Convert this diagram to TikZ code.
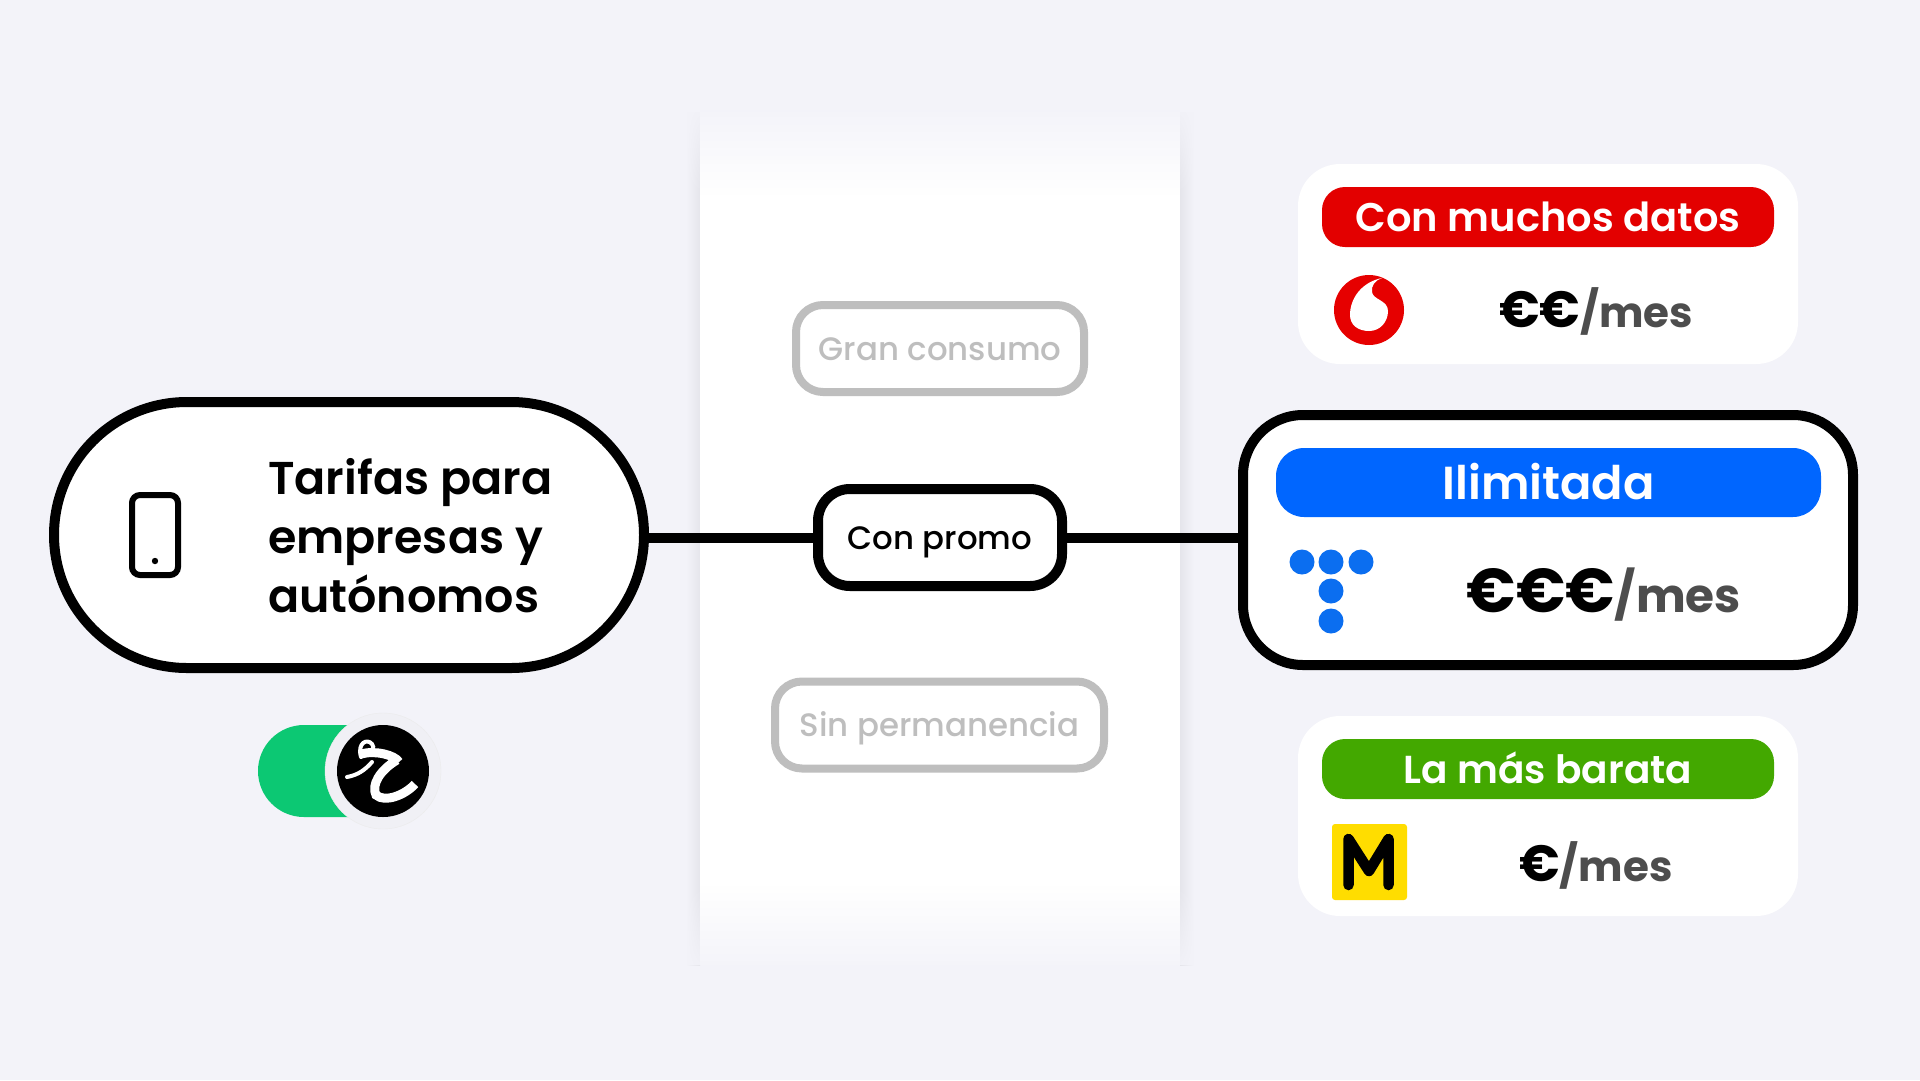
\documentclass[tikz,border=0pt]{standalone}
\usepackage{fontspec}
\setmainfont{Poppins}
\newfontfamily\medfont{Poppins Medium}
\newfontfamily\semifont{Poppins SemiBold}
\newfontfamily\heavyfont{Poppins Black}
\usetikzlibrary{fadings}
\definecolor{pagebg}{HTML}{F3F3F9}
\definecolor{sideshade}{HTML}{E5E5EB}
\definecolor{mutedgray}{HTML}{BEBEBE}
\definecolor{pricegray}{HTML}{4D4D4D}
\definecolor{switchgreen}{HTML}{0CC873}
\definecolor{knobgray}{HTML}{F0F0F5}
\definecolor{vodared}{HTML}{E60000}
\definecolor{tagred}{HTML}{E30000}
\definecolor{tagblue}{HTML}{0066FF}
\definecolor{taggreen}{HTML}{43A800}
\definecolor{dotblue}{HTML}{0B6EF0}
\definecolor{signyellow}{HTML}{FFDD00}
\tikzfading[name=fadedown, top color=transparent!12, bottom color=transparent!100]
\tikzfading[name=fadeup, bottom color=transparent!12, top color=transparent!100]
\newcommand{\eurosat}[2]{{\heavyfont\fontsize{#1}{#1}\selectfont\textcolor{black}{#2}}}
\tikzset{
  linkline/.style={line width=10pt},
  optionbox/.style={draw=mutedgray, line width=8pt, fill=white, text=mutedgray, rounded corners=27pt,
    inner sep=0pt, minimum height=87pt, text height=23pt, text depth=0pt, font=\medfont\fontsize{32.4}{38}\selectfont},
  activebox/.style={optionbox, draw=black, line width=10pt, text=black, rounded corners=32pt},
  planlabel/.style={fill=white, rounded corners=42pt, inner sep=0pt, minimum width=500pt, minimum height=200pt},
  tagbar/.style={rounded corners=23pt, inner sep=0pt, minimum width=452pt, minimum height=60pt, text=white,
    text height=28pt, text depth=0pt, font=\semifont\fontsize{40}{46}\selectfont},
  pricetag/.style={anchor=base, inner sep=0pt, text=pricegray},
  knobstroke/.style={draw=white, line cap=round},
}
\begin{document}
\begin{tikzpicture}[x=1pt,y=-1pt]
  \useasboundingbox (0,0) rectangle (1920,1080);
  \fill[pagebg] (0,0) rectangle (1920,1080);

  % column behind the options
  \shade[left color=pagebg, right color=sideshade] (686,112) rectangle (700,965);
  \shade[left color=sideshade, right color=pagebg] (1180,112) rectangle (1194,965);
  \fill[white] (700,112) rectangle (1180,965);
  \fill[pagebg, path fading=fadedown] (680,112) rectangle (1200,195);
  \fill[pagebg, path fading=fadeup] (680,885) rectangle (1200,965);

  \node[optionbox, minimum width=288pt] (gran) at (940,348.5) {Gran consumo};
  \node[optionbox, minimum width=329pt] (sinperm) at (939.5,725) {Sin permanencia};

  \node[draw=black, line width=10pt, fill=white, rounded corners=133pt, inner sep=0pt,
    minimum width=590pt, minimum height=266pt] (pill) at (349,535) {};
  \node[activebox, minimum width=244pt, minimum height=97pt] (promo) at (940,537.5) {Con promo};
  \node[draw=black, line width=10pt, fill=white, rounded corners=60pt, inner sep=0pt,
    minimum width=610pt, minimum height=250pt] (ilimbox) at (1548,540) {};
  \draw[linkline] (pill.east |- promo.west) -- (promo.west);
  \draw[linkline] (promo.east) -- (ilimbox.west |- promo.east);

  % phone and title
  \node[draw=black, line width=6pt, rounded corners=8pt, inner sep=0pt, minimum width=46pt, minimum height=80pt] (phone) at (155,535) {};
  \fill[black] (155,561) circle (3.2);
  \node[anchor=base west, align=left, inner sep=0pt, font=\semifont\fontsize{46}{59}\selectfont] (title) at (268,612) {Tarifas para\\empresas y\\autónomos};

  % switch
  \fill[switchgreen, rounded corners=46pt] (258,725) rectangle (400,817);
  \begin{scope}[shift={(383,771)}, local bounding box=knob]
    \fill[knobgray, draw=black!8] (0,0) circle (58);
    \fill[black] (0,0) circle (46);
    \draw[knobstroke, line width=4pt] (-22,-14) .. controls (-26,-28) and (-16,-33) .. (-11,-27) .. controls (-8,-23) and (-11,-20) .. (-14,-21);
    \draw[knobstroke, line width=9pt, line cap=butt] (-22,-17) .. controls (-8,-21) and (12,-16) .. (16,-9);
    \draw[knobstroke, line width=9pt, line cap=butt] (14,-11) .. controls (-3,-1) and (-12,14) .. (-7,24) .. controls (2,32) and (22,24) .. (32,13);
    \draw[knobstroke, line width=4pt] (-36,6) .. controls (-25,4) and (-18,-1) .. (-11,-9);
  \end{scope}

  % red card
  \node[planlabel] (datacard) at (1548,264) {};
  \node[tagbar, fill=tagred] (datatag) at (1548,217) {Con muchos datos};
  \fill[vodared] (1369,310) circle (35);
  \fill[white] (1382,278) .. controls (1362,282) and (1350,298) .. (1350,315) .. controls (1350,325) and (1358,331) .. (1369,331)
    .. controls (1380,331) and (1388,322) .. (1388,311) .. controls (1388,300) and (1373,300) .. (1372,292) .. controls (1371,286) and (1375,280) .. (1382,278);
  \node[pricetag, font=\bfseries\fontsize{42}{50}\selectfont] (dataprice) at (1596,327) {\eurosat{51}{€€}/mes};

  % blue card
  \node[tagbar, fill=tagblue, minimum width=545pt, minimum height=69pt, rounded corners=28pt, text height=33pt,
    font=\semifont\fontsize{46.3}{56}\selectfont] (ilimtag) at (1548.5,482.5) {Ilimitada};
  \fill[dotblue] (1302,562) circle (12.5);
  \fill[dotblue] (1331,562) circle (12.5);
  \fill[dotblue] (1361,562) circle (12.5);
  \fill[dotblue] (1331,591) circle (12.5);
  \fill[dotblue] (1331,621) circle (12.5);
  \node[pricetag, font=\bfseries\fontsize{47}{56}\selectfont] (ilimprice) at (1604,612) {\eurosat{62}{€€€}/mes};

  % green card
  \node[planlabel] (cheapcard) at (1548,816) {};
  \node[tagbar, fill=taggreen, font=\semifont\fontsize{39}{46}\selectfont] (cheaptag) at (1548,769) {La más barata};
  \fill[signyellow, rounded corners=3pt] (1332,824) rectangle (1407,900);
  \draw[black, line width=10.5pt, line cap=round, line join=round] (1348.5,885) -- (1348.5,839) -- (1369,871) -- (1388.5,839) -- (1388.5,885);
  \node[pricetag, font=\bfseries\fontsize{42}{50}\selectfont] (cheapprice) at (1596,881) {\eurosat{51}{€}/mes};
\end{tikzpicture}
\end{document}
